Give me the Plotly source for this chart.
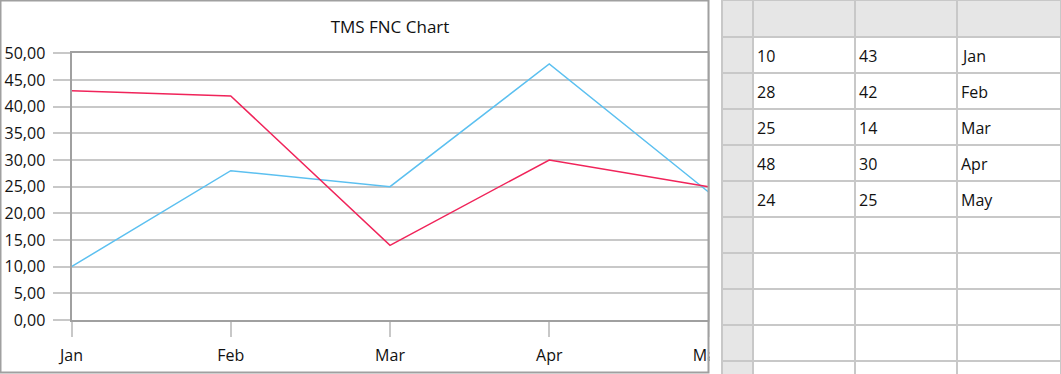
import plotly.graph_objects as go

# ---- data ----
months = ["Jan", "Feb", "Mar", "Apr", "May"]
series_blue = [10, 28, 25, 48, 24]
series_red = [43, 42, 14, 30, 25]
y_tick_values = [0, 5, 10, 15, 20, 25, 30, 35, 40, 45, 50]
empty_grid_rows = 5

W, H = 1061, 374


def fx(p):
    return p / W


def fy(p):
    return 1 - p / H


FONT = "Open Sans, Noto Sans, sans-serif"
GRID = "#c8c8c8"
FRAME = "#a0a0a0"
TEXT = "#111"

fig = go.Figure()

fig.add_trace(go.Scatter(x=months, y=series_blue, mode="lines",
                         line=dict(color="#5cc0f0", width=1.5),
                         showlegend=False, hoverinfo="skip"))
fig.add_trace(go.Scatter(x=months, y=series_red, mode="lines",
                         line=dict(color="#f0245a", width=1.5),
                         showlegend=False, hoverinfo="skip"))

# ---- data grid on the right ----
grid_left = 722
col_widths = [31, 102, 102, 104]
row_h = 36
header_h = 36.7
n_rows = len(months) + empty_grid_rows
grid_columns = [
    [str(v) for v in series_blue],
    [str(v) for v in series_red],
    list(months),
]

fig.add_trace(go.Table(
    domain=dict(x=[fx(grid_left), 1], y=[0, 1]),
    columnwidth=col_widths,
    header=dict(values=[""] * len(col_widths), fill_color="#e6e6e6",
                line=dict(color=GRID, width=2), height=header_h),
    cells=dict(values=[[""] * n_rows for _ in col_widths],
               fill_color=[["#e6e6e6"] * n_rows] + [["white"] * n_rows] * 3,
               line=dict(color=GRID, width=2), height=row_h),
))

annotations = []
col_start = grid_left + col_widths[0]
for ci, column in enumerate(grid_columns):
    for ri, txt in enumerate(column):
        annotations.append(dict(
            text=txt, xref="paper", yref="paper",
            x=fx(col_start + 1.5), y=fy(header_h + row_h * ri + row_h / 2 + 1.5),
            xanchor="left", yanchor="middle", showarrow=False,
            font=dict(family=FONT, size=16, color=TEXT)))
    col_start += col_widths[ci + 1]

fig.update_layout(
    width=W, height=H,
    margin=dict(l=0, r=0, t=0, b=0, autoexpand=False),
    paper_bgcolor="white", plot_bgcolor="white",
    separators=",.",
    font=dict(family=FONT, size=16, color=TEXT),
    title=dict(text="TMS FNC Chart", x=fx(390), xref="paper", xanchor="center",
               y=fy(27), yref="container", yanchor="middle",
               font=dict(family=FONT, size=17, color=TEXT)),
    xaxis=dict(domain=[fx(71.5), fx(708.5)], type="category",
               range=[0, len(months) - 1], showgrid=False, automargin=False,
               showline=True, linecolor=FRAME, linewidth=2, mirror=True,
               ticks="outside", ticklen=15, tickwidth=2, tickcolor=GRID,
               tickfont=dict(size=16), ticklabelstandoff=5, zeroline=False,
               fixedrange=True),
    yaxis=dict(domain=[fy(320), fy(53.3)], range=[0, 50], automargin=False,
               tickvals=y_tick_values, tickformat=".2f",
               showgrid=True, gridcolor=GRID, gridwidth=2,
               showline=True, linecolor=FRAME, linewidth=2, mirror=True,
               ticks="outside", ticklen=17, tickwidth=2, tickcolor=GRID,
               tickfont=dict(size=16), ticklabelstandoff=4, zeroline=False,
               fixedrange=True),
    annotations=annotations,
    shapes=[
        # blank gap between chart and grid (clips the last axis label)
        dict(type="rect", xref="paper", yref="paper", layer="above",
             x0=fx(709.5), x1=fx(721), y0=0, y1=1,
             fillcolor="white", line=dict(width=0)),
        # chart border
        dict(type="rect", xref="paper", yref="paper", layer="above",
             x0=fx(0.5), x1=fx(708.5), y0=fy(372.5), y1=fy(0.5),
             fillcolor="rgba(0,0,0,0)", line=dict(color=FRAME, width=2)),
    ],
)

fig.write_html("out.html")
